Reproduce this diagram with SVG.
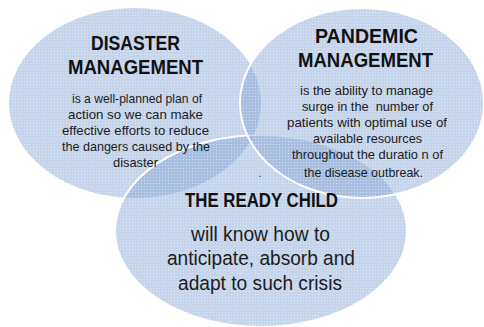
<svg xmlns="http://www.w3.org/2000/svg" width="484" height="327" viewBox="0 0 484 327">
<defs>
<pattern id="dots" width="3" height="3" patternUnits="userSpaceOnUse">
<rect x="0" y="0" width="1" height="1" fill="#ffffff" fill-opacity="0.35"/>
<rect x="1.5" y="1.5" width="1" height="1" fill="#5f7fb8" fill-opacity="0.12"/>
</pattern>
</defs>
<style>
.blob{fill:#86a4d5;fill-opacity:0.45;stroke:#ffffff;stroke-width:2}
.tex{fill:url(#dots);stroke:none}
.h{font-family:"Liberation Sans",Arial,sans-serif;font-weight:bold;fill:#111111;text-anchor:middle}
.b{font-family:"Liberation Sans",Arial,sans-serif;fill:#1c1c1c;text-anchor:middle}
</style>
<rect width="484" height="327" fill="#ffffff"/>
<g id="disaster">
<ellipse class="blob" cx="135" cy="103" rx="127" ry="96"/>
<ellipse class="tex" cx="135" cy="103" rx="127" ry="96"/>
</g>
<g id="ready-child">
<ellipse class="blob" cx="261" cy="231" rx="146" ry="96"/>
<ellipse class="tex" cx="261" cy="231" rx="146" ry="96"/>
</g>
<g id="pandemic">
<ellipse class="blob" cx="362" cy="103" rx="122" ry="95"/>
<ellipse class="tex" cx="362" cy="103" rx="122" ry="95"/>
</g>
<g id="connectors"></g>
<g id="disaster-text">
<text class="h" x="135.5" y="50" font-size="21" textLength="89" lengthAdjust="spacingAndGlyphs">DISASTER</text>
<text class="h" x="135.5" y="74" font-size="21" textLength="135" lengthAdjust="spacingAndGlyphs">MANAGEMENT</text>
<text class="b" x="137" y="102.5" font-size="13" textLength="130" lengthAdjust="spacingAndGlyphs">is a well-planned plan of</text>
<text class="b" x="135.5" y="118.5" font-size="13" textLength="135" lengthAdjust="spacingAndGlyphs">action so we can make</text>
<text class="b" x="135.5" y="134.5" font-size="13" textLength="147" lengthAdjust="spacingAndGlyphs">effective efforts to reduce</text>
<text class="b" x="136" y="150.5" font-size="13" textLength="148" lengthAdjust="spacingAndGlyphs">the dangers caused by the</text>
<text class="b" x="135.5" y="166.5" font-size="13" textLength="45" lengthAdjust="spacingAndGlyphs">disaster</text>
</g>
<g id="pandemic-text">
<text class="h" x="366.5" y="43" font-size="21" textLength="103" lengthAdjust="spacingAndGlyphs">PANDEMIC</text>
<text class="h" x="365.5" y="67" font-size="21" textLength="135" lengthAdjust="spacingAndGlyphs">MANAGEMENT</text>
<text class="b" x="366.5" y="94.5" font-size="13" textLength="133" lengthAdjust="spacingAndGlyphs">is the ability to manage</text>
<text class="b" x="367.5" y="110.5" font-size="13" textLength="131" lengthAdjust="spacingAndGlyphs" xml:space="preserve">surge in the  number of</text>
<text class="b" x="367" y="126.5" font-size="13" textLength="160" lengthAdjust="spacingAndGlyphs">patients with optimal use of</text>
<text class="b" x="367.5" y="142.5" font-size="13" textLength="109" lengthAdjust="spacingAndGlyphs">available resources</text>
<text class="b" x="367.5" y="159" font-size="13" textLength="151" lengthAdjust="spacingAndGlyphs">throughout the duratio n of</text>
<text class="b" x="363.5" y="176.5" font-size="13" textLength="119" lengthAdjust="spacingAndGlyphs">the disease outbreak.</text>
</g>
<g id="ready-child-text">
<text class="b" x="260" y="177" font-size="10">.</text>
<text class="h" x="261.5" y="206.5" font-size="21" textLength="153" lengthAdjust="spacingAndGlyphs">THE READY CHILD</text>
<text class="b" x="260.5" y="240.5" font-size="20.5" textLength="139" lengthAdjust="spacingAndGlyphs">will know how to</text>
<text class="b" x="261" y="265" font-size="20.5" textLength="188" lengthAdjust="spacingAndGlyphs">anticipate, absorb and</text>
<text class="b" x="260" y="289.5" font-size="20.5" textLength="164" lengthAdjust="spacingAndGlyphs">adapt to such crisis</text>
</g>
</svg>
